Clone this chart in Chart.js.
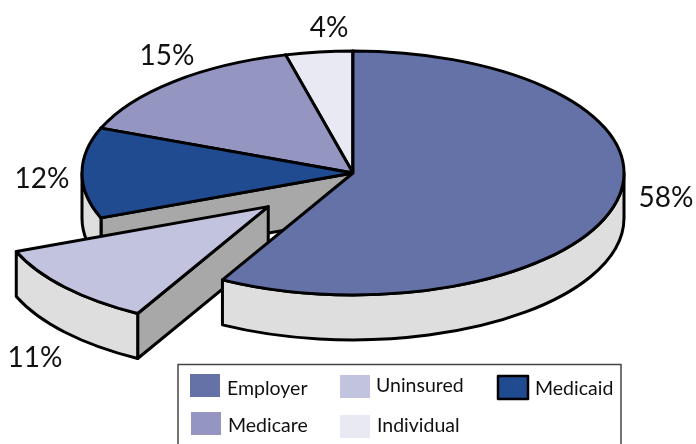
<!DOCTYPE html>
<html>
<head>
<meta charset="utf-8">
<style>
  html, body { margin: 0; padding: 0; background: #fff; }
  canvas { display: block; }
</style>
</head>
<body>
<canvas id="coverageChart" width="696" height="444"></canvas>
<script src="https://cdn.jsdelivr.net/npm/chart.js@4/dist/chart.umd.js"></script>
<script>
// chart data
const categories = ["Employer", "Uninsured", "Medicaid", "Medicare", "Individual"];
const shares = [58, 11, 12, 15, 4];
const sliceColors = ["#6472A8", "#C2C3DE", "#214B91", "#9495C1", "#E9E9F3"];

const squash = 0.45;    // pie tilt, height / width
const depth = 45;       // height of the side wall
const explode = 113;    // how far Uninsured is pulled out
const wallColor = "#DEDEDE";
const cutColor = "#A8A8A8";
const labelFont = '28px Lato, sans-serif';
const legendFont = '19.5px Lato, sans-serif';

// where the % labels and legend rows go, same order as categories
const labelSpots = [[666, 207], [35, 367], [42, 188], [167, 65], [329, 37]];
const legendSpots = [
  { sx: 190, sy: 374, tx: 227, ty: 395 },
  { sx: 340, sy: 375, tx: 376, ty: 392 },
  { sx: 498, sy: 376, tx: 535, ty: 395 },
  { sx: 191, sy: 412, tx: 228, ty: 432 },
  { sx: 340, sy: 415, tx: 377, ty: 432 }
];

function paint(ctx, color) {
  ctx.fillStyle = color;
  ctx.fill();
  ctx.stroke();
}

// the slice is drawn from the arc the doughnut controller worked out
function drawSlice(ctx, arc) {
  const { x, y, startAngle, endAngle, outerRadius } = arc.getProps(
    ["x", "y", "startAngle", "endAngle", "outerRadius"], true);
  const mid = (startAngle + endAngle) / 2;
  const off = arc.options.offset || 0;
  const cx = x + Math.cos(mid) * off;
  const cy = y + Math.sin(mid) * off * squash;
  const r = outerRadius;
  const ry = r * squash;

  // cut face along the starting edge
  const ex = cx + r * Math.cos(startAngle);
  const ey = cy + ry * Math.sin(startAngle);
  ctx.beginPath();
  ctx.moveTo(cx, cy);
  ctx.lineTo(ex, ey);
  ctx.lineTo(ex, ey + depth);
  ctx.lineTo(cx, cy + depth);
  ctx.closePath();
  paint(ctx, cutColor);

  // outer wall, front half only
  const a0 = Math.max(startAngle, 0);
  const a1 = Math.min(endAngle, Math.PI);
  if (a1 > a0) {
    ctx.beginPath();
    ctx.ellipse(cx, cy, r, ry, 0, a0, a1);
    ctx.ellipse(cx, cy + depth, r, ry, 0, a1, a0, true);
    ctx.closePath();
    paint(ctx, wallColor);
  }

  // top
  ctx.beginPath();
  ctx.moveTo(cx, cy);
  ctx.ellipse(cx, cy, r, ry, 0, startAngle, endAngle);
  ctx.closePath();
  paint(ctx, arc.options.backgroundColor);
}

function drawLegend(ctx) {
  ctx.strokeStyle = "#444";
  ctx.lineWidth = 1.5;
  ctx.strokeRect(178, 364.5, 443, 90);
  ctx.font = legendFont;
  ctx.textAlign = "left";
  ctx.textBaseline = "alphabetic";
  categories.forEach(function(name, i) {
    const spot = legendSpots[i];
    ctx.fillStyle = sliceColors[i];
    ctx.fillRect(spot.sx, spot.sy, 30, 23);
    if (name === "Medicaid") {
      ctx.strokeStyle = "#000";
      ctx.lineWidth = 2.5;
      ctx.strokeRect(spot.sx, spot.sy, 30, 23);
    }
    ctx.fillStyle = "#111";
    ctx.fillText(name, spot.tx, spot.ty);
  });
}

const pie3d = {
  id: "pie3d",
  // replace the flat pie with the tilted one
  beforeDatasetsDraw: function(chart) {
    const ctx = chart.ctx;
    const arcs = chart.getDatasetMeta(0).data;
    ctx.save();
    ctx.strokeStyle = "#000";
    ctx.lineWidth = 3;
    ctx.lineJoin = "round";
    // back slices first, Employer last so it sits over the pulled out slice
    for (let i = arcs.length - 1; i >= 0; i--) {
      drawSlice(ctx, arcs[i]);
    }
    ctx.fillStyle = "#111";
    ctx.font = labelFont;
    ctx.textAlign = "center";
    ctx.textBaseline = "alphabetic";
    shares.forEach(function(v, i) {
      ctx.fillText(v + "%", labelSpots[i][0], labelSpots[i][1]);
    });
    drawLegend(ctx);
    ctx.restore();
    return false;
  }
};

new Chart(document.getElementById("coverageChart"), {
  type: "pie",
  data: {
    labels: categories,
    datasets: [{
      data: shares,
      backgroundColor: sliceColors,
      offset: categories.map(function(c) { return c === "Uninsured" ? explode : 0; })
    }]
  },
  options: {
    responsive: false,
    animation: false,
    radius: 271,
    layout: { padding: { left: 10, bottom: 98 } },
    plugins: {
      legend: { display: false },
      tooltip: { enabled: false }
    }
  },
  plugins: [pie3d]
});
</script>
</body>
</html>
